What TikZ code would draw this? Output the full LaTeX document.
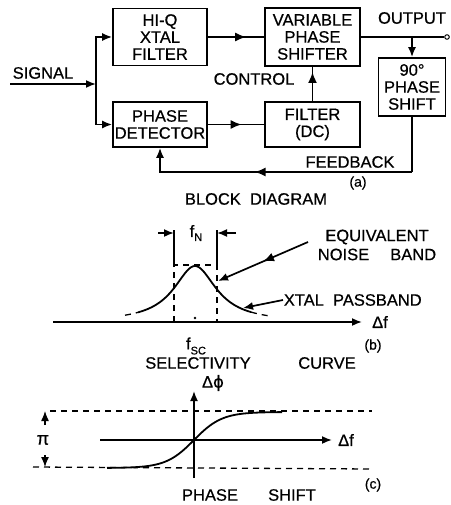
\documentclass[tikz,border=0pt]{standalone}
\usepackage{fontspec}
\setmainfont{Liberation Sans}[FakeBold=0.6]
\newfontfamily\dvs{DejaVu Sans}[FakeBold=0.6]
\usetikzlibrary{arrows.meta,decorations.markings}
\begin{document}
\begin{tikzpicture}[x=1pt,y=-1pt,
  line width=1.7pt,
  every node/.style={font=\fontsize{16.5}{17}\selectfont},
  blk/.style={draw,align=center,inner sep=0pt},
  tip/.style={-{Latex[length=10pt,width=8pt]}},
  midarr/.style={postaction={decorate},decoration={markings,mark=at position #1 with {\arrow{Latex[length=11pt,width=9pt]}}}},
  lbl/.style={inner sep=0pt},
  dsh/.style={dash pattern=on 6pt off 5pt, line width=1.3pt},
  curve/.style={line width=1.8pt}]
\useasboundingbox (0,0) rectangle (450,505);
% ---------- (a) block diagram ----------
\node[blk,minimum width=94pt,minimum height=57pt] (hiq) at (160,37) {HI-Q\\XTAL\\FILTER};
\node[blk,minimum width=95pt,minimum height=58pt] (vps) at (312.5,37) {VARIABLE\\PHASE\\SHIFTER};
\node[blk,minimum width=67pt,minimum height=58pt] (ps) at (412,87) {90°\\PHASE\\SHIFT};
\node[blk,minimum width=94pt,minimum height=45pt] (pd) at (160,124.5) {PHASE\\DETECTOR};
\node[blk,minimum width=95pt,minimum height=45pt] (fdc) at (312.5,124.5) {FILTER\\(DC)};
\coordinate (sig) at (10,84);
\coordinate (j) at (96,84);
\coordinate (jo) at (412,37);
\coordinate (fb) at (412,172);
\node[circle,draw,fill=white,inner sep=1.6pt,line width=1pt] (out) at (447,37) {};
\draw[tip] (sig) -- (j);
\draw[tip] (j) |- (hiq.west);
\draw[tip] (j) |- (pd.west);
\draw[midarr=0.68] (hiq.east) -- (vps.west);
\draw (vps.east) -- (out.west);
\draw[tip] (jo) -- (ps.north);
\draw (ps.south) -- (fb);
\draw[midarr=0.57,tip] (fb) -| (pd.south);
\draw[midarr=0.6] (pd.east) -- (fdc.west);
\draw[midarr=0.85] (fdc.north) -- (vps.south);
\node[lbl] (tsig) at (43,73) {SIGNAL};
\node[lbl] (tout) at (412,18) {OUTPUT};
\node[lbl] (tctl) at (254,79) {CONTROL};
\node[lbl] (tfb) at (350,162) {FEEDBACK};
\node[lbl,font=\fontsize{14}{15}\selectfont] (ta) at (358,183) {(a)};
\node[lbl] (tbd) at (256,199) {BLOCK\ \ DIAGRAM};
% ---------- (b) selectivity curve ----------
\coordinate (bx0) at (53,322);
\coordinate (bx1) at (362,322);
\draw[tip] (bx0) -- (bx1);
\node[lbl] (dfb) at (380,322) {Δf};
\draw[curve] plot[domain=-57:56,samples=90] ({195+\x},{322-56/(1+(\x/26)^2)});
\draw[curve,dsh] plot[domain=-70:-57,samples=10] ({195+\x},{322-56/(1+(\x/26)^2)});
\draw[curve,dsh] plot[domain=56:73,samples=10] ({195+\x},{322-56/(1+(\x/26)^2)});
\coordinate (nl0) at (174,230);
\coordinate (nl1) at (174,265);
\coordinate (nr0) at (217,230);
\coordinate (nr1) at (217,265);
\coordinate (nlb) at (174,322);
\coordinate (nrb) at (217,322);
\draw (nl0) -- (nl1);
\draw (nr0) -- (nr1);
\draw[dsh] (nlb) -- (nl1) -- (nr1) -- (nrb);
\coordinate (al) at (158,233);
\coordinate (ar) at (236,233);
\draw[tip] (al) -- (174,233);
\draw[tip] (ar) -- (217,233);
\node[lbl] (fn) at (196,233) {f\raisebox{-4pt}{\fontsize{11}{11}\selectfont N}};
\fill (195,318) circle (1.4pt);
\node[lbl] (fsc) at (196,346) {f\raisebox{-5pt}{\fontsize{11}{11}\selectfont SC}};
\node[lbl,align=center] (enb) at (377,245) {EQUIVALENT\\[2pt]NOISE\quad\ BAND};
\coordinate (enbs) at (308,242);
\coordinate (enbe) at (218,281);
\draw[midarr=0.5,tip] (enbs) -- (enbe);
\node[lbl,anchor=west] (xtal) at (283,300) {XTAL\ \ PASSBAND};
\coordinate (xpt) at (243,308);
\draw[tip] (xtal.west) -- (xpt);
\node[lbl,font=\fontsize{14}{15}\selectfont] (tb) at (373,346) {(b)};
\node[lbl] (tsel) at (198,363) {SELECTIVITY};
\node[lbl] (tcur) at (327,363) {CURVE};
% ---------- (c) phase shift ----------
\coordinate (vy0) at (194,478);
\coordinate (vy1) at (194,391);
\draw[tip] (vy0) -- (vy1);
\node[lbl] (dphi) at (213,383) {Δ{\dvs ϕ}};
\coordinate (hx0) at (100,440);
\coordinate (hx1) at (332,440);
\draw[tip] (hx0) -- (hx1);
\node[lbl] (dfc) at (346,440) {Δf};
\coordinate (dt0) at (50,411);
\coordinate (dt1) at (372,411);
\coordinate (db0) at (33,467);
\coordinate (db1) at (372,469);
\draw[dsh] (dt0) -- (dt1);
\draw[dsh] (db0) -- (db1);
\draw[curve] plot[domain=-87:88,samples=100] ({194+\x},{440-28*tanh(\x/28)});
\node[lbl,font=\fontsize{18}{18}\selectfont] (pi) at (43,440) {π};
\coordinate (pu0) at (45,425);
\coordinate (pu1) at (45,411);
\coordinate (pd0) at (45,455);
\coordinate (pd1) at (45,467);
\draw[tip,line width=1.3pt] (pu0) -- (pu1);
\draw[tip,line width=1.3pt] (pd0) -- (pd1);
\node[lbl,font=\fontsize{14}{15}\selectfont] (tc) at (373,485) {(c)};
\node[lbl] (tph) at (210,495) {PHASE};
\node[lbl] (tsh) at (292,495) {SHIFT};
\end{tikzpicture}
\end{document}
